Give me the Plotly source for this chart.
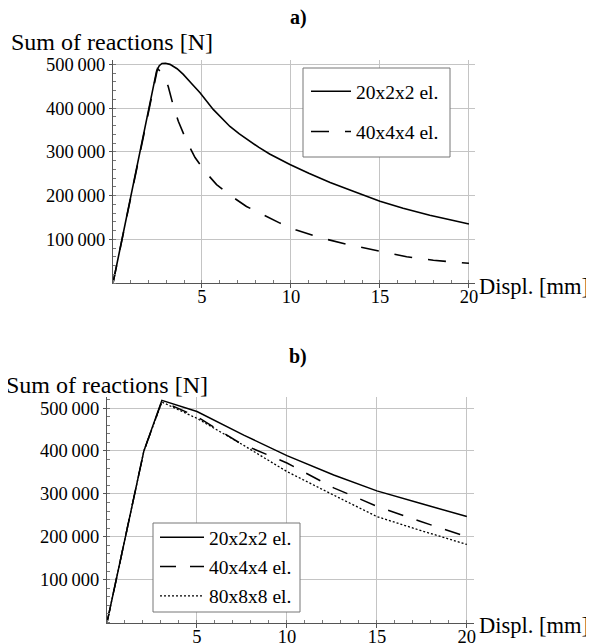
import plotly.graph_objects as go

# ---- data: panel a) ----
a_x_20 = [0, 2.45, 2.6, 2.75, 2.95, 3.2, 3.6, 3.95, 4.4, 4.89, 5.63, 6.1, 6.57, 7.1, 7.7, 8.2, 8.8,
          9.4, 9.94, 11, 12.2, 13.5, 15, 16.3, 17.8, 19, 20]
a_y_20 = [0, 485000, 497000, 502000, 502500, 500000, 490000, 477000, 457000, 435000, 397000, 377000,
          358000, 341000, 323000, 310000, 295000, 282000, 271000, 251000, 230000, 210000, 187000,
          171000, 155000, 144000, 135000]
a_x_40 = [0, 2.5, 2.64, 2.9, 3.1, 3.39, 3.67, 4.14, 4.61, 5.17, 5.82, 6.67, 7.5, 8.45, 9.38, 10.3,
          11.8, 13.3, 15, 16.5, 18, 20]
a_y_40 = [0, 490000, 485000, 468000, 450000, 405000, 370000, 324000, 287000, 255000, 225000, 198000,
          175000, 156000, 137000, 121000, 102000, 87000, 72000, 60000, 52000, 45000]

# ---- data: panel b) ----
b_x_20 = [0, 2.05, 3.05, 5, 7.6, 10, 12.6, 15, 17.4, 20]
b_y_20 = [0, 400000, 518000, 492000, 437000, 389000, 344000, 307000, 278000, 247000]
b_x_40 = [0, 2.05, 3.05, 5, 7.4, 10, 12.6, 15, 17.4, 20]
b_y_40 = [0, 400000, 516000, 480000, 418000, 372000, 314000, 271000, 236000, 200000]
b_x_80 = [0, 2.05, 3.05, 5, 7.6, 10, 12.6, 15, 17.4, 20]
b_y_80 = [0, 400000, 514000, 476000, 413000, 352000, 297000, 247000, 215000, 182000]

names = ["20x2x2 el.", "40x4x4 el.", "80x8x8 el."]
x_tickvals = [5, 10, 15, 20]
x_ticktext = ["5", "10", "15", "20"]
y_tickvals = [100000, 200000, 300000, 400000, 500000]
y_ticktext = ["100\u2009000", "200\u2009000", "300\u2009000", "400\u2009000", "500\u2009000"]

FONT = "Liberation Serif, Times New Roman, serif"
W, H = 594, 644
OFF = 8  # page body margin offset


def px_x(p):
    return (p - OFF) / W


def px_y(p):
    return 1 - (p - OFF) / H


fig = go.Figure()

fig.add_trace(go.Scatter(x=a_x_20, y=a_y_20, mode="lines", name=names[0],
                         line=dict(color="black", width=1.6), xaxis="x", yaxis="y",
                         legend="legend", legendgroup="a1"))
fig.add_trace(go.Scatter(x=a_x_40, y=a_y_40, mode="lines", name=names[1],
                         line=dict(color="black", width=1.6, dash="18px,16px"), xaxis="x", yaxis="y",
                         legend="legend", legendgroup="a2"))

fig.add_trace(go.Scatter(x=b_x_20, y=b_y_20, mode="lines", name=names[0],
                         line=dict(color="black", width=1.5), xaxis="x2", yaxis="y2",
                         legend="legend2", legendgroup="b1"))
fig.add_trace(go.Scatter(x=b_x_40, y=b_y_40, mode="lines", name=names[1],
                         line=dict(color="black", width=1.5, dash="16px,14px"), xaxis="x2", yaxis="y2",
                         legend="legend2", legendgroup="b2"))
fig.add_trace(go.Scatter(x=b_x_80, y=b_y_80, mode="lines", name=names[2],
                         line=dict(color="black", width=1.3, dash="2px,2px"), xaxis="x2", yaxis="y2",
                         legend="legend2", legendgroup="b3"))


def xax(domain, rng, anchor):
    return dict(domain=domain, range=rng, anchor=anchor, tickvals=x_tickvals, ticktext=x_ticktext,
                tickmode="array", automargin=False, ticklabelstandoff=-7,
                showgrid=True, gridcolor="#c4c4c4", gridwidth=1, zeroline=False,
                showline=True, linecolor="#555", linewidth=1,
                ticks="outside", ticklen=4, tickcolor="#555",
                minor=dict(tickmode="linear", tick0=0, dtick=1, ticks="inside", ticklen=3,
                           tickcolor="#777", showgrid=False),
                tickfont=dict(family=FONT, size=18.5, color="black"), fixedrange=True)


def yax(domain, rng, anchor):
    return dict(domain=domain, range=rng, anchor=anchor, tickvals=y_tickvals, ticktext=y_ticktext,
                tickmode="array", automargin=False,
                showgrid=True, gridcolor="#c4c4c4", gridwidth=1, zeroline=False,
                showline=True, linecolor="#555", linewidth=1,
                ticks="outside", ticklen=3, tickcolor="#555",
                minor=dict(tickmode="linear", tick0=0, dtick=20000, ticks="inside", ticklen=3,
                           tickcolor="#777", showgrid=False),
                tickfont=dict(family=FONT, size=18.5, color="black"), fixedrange=True)


fig.update_layout(
    width=W, height=H,
    margin=dict(l=0, r=0, t=0, b=0, autoexpand=False),
    paper_bgcolor="white", plot_bgcolor="white",
    font=dict(family=FONT, color="black"),
    xaxis=xax([px_x(113), px_x(475)], [0, 20.34], "y"),
    yaxis=yax([px_y(283), px_y(60)], [0, 510000], "x"),
    xaxis2=xax([px_x(107), px_x(473.5)], [0, 20.37], "y2"),
    yaxis2=yax([px_y(622.5), px_y(396.5)], [0, 527000], "x2"),
    legend=dict(x=px_x(306), y=px_y(72), xanchor="left", yanchor="top",
                bgcolor="rgba(0,0,0,0)", borderwidth=0,
                font=dict(family=FONT, size=19.5, color="black"),
                itemwidth=40, tracegroupgap=12),
    legend2=dict(x=px_x(155), y=px_y(518), xanchor="left", yanchor="top",
                 bgcolor="rgba(0,0,0,0)", borderwidth=0,
                 font=dict(family=FONT, size=19.5, color="black"),
                 itemwidth=44, tracegroupgap=1),
    showlegend=True,
)

# legend frames (white boxes behind the legends)
for (x0, y0, x1, y1) in [(303, 68, 450, 157), (153, 523, 300, 612)]:
    fig.add_shape(type="rect", xref="paper", yref="paper",
                  x0=px_x(x0), x1=px_x(x1), y0=px_y(y1), y1=px_y(y0),
                  fillcolor="white", line=dict(color="#777", width=1), layer="above")

ann = [
    ("a)", px_x(298), px_y(17), "center", 20, True),
    ("Sum of reactions [N]", px_x(9), px_y(42), "left", 24, False),
    ("Displ. [mm]", px_x(477), px_y(286), "left", 22.5, False),
    ("b)", px_x(298), px_y(356), "center", 20, True),
    ("Sum of reactions [N]", px_x(4), px_y(385), "left", 24, False),
    ("Displ. [mm]", px_x(477), px_y(625), "left", 22.5, False),
]
for text, x, y, xa, size, bold in ann:
    fig.add_annotation(text=f"<b>{text}</b>" if bold else text, x=x, y=y, xref="paper", yref="paper",
                       xanchor=xa, yanchor="middle", showarrow=False,
                       font=dict(family=FONT, size=size, color="black"))

fig.write_html("out.html")
